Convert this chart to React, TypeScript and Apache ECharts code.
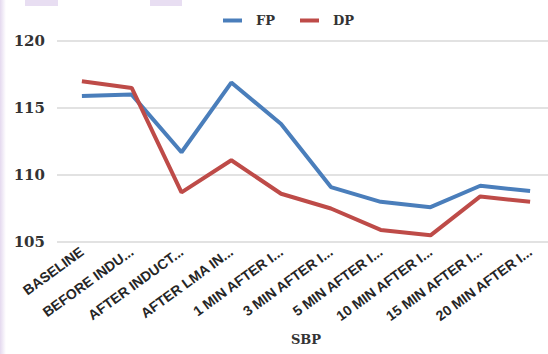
import React, { useEffect, useRef } from "react";
import * as echarts from "echarts";

// Time points of the measurement (as shown on the axis)
const categories: string[] = [
  "BASELINE",
  "BEFORE INDU...",
  "AFTER INDUCT...",
  "AFTER LMA IN...",
  "1 MIN AFTER I...",
  "3 MIN AFTER I...",
  "5 MIN AFTER I...",
  "10 MIN AFTER I...",
  "15 MIN AFTER I...",
  "20 MIN AFTER I...",
];

// Systolic blood pressure, mean values per group
const fpValues: number[] = [115.9, 116.0, 111.7, 116.9, 113.8, 109.1, 108.0, 107.6, 109.2, 108.8];
const dpValues: number[] = [117.0, 116.5, 108.7, 111.1, 108.6, 107.5, 105.9, 105.5, 108.4, 108.0];

const yMin = 105;
const yMax = 120;
const yStep = 5;

const serif = "'DejaVu Serif', 'Liberation Serif', serif";
const sans = "'Liberation Sans', Arial, sans-serif";

export default function App() {
  const ref = useRef<HTMLDivElement>(null);

  useEffect(() => {
    if (!ref.current) return;
    const chart = echarts.init(ref.current, null, { renderer: "svg" });
    chart.setOption({
      animation: false,
      backgroundColor: "#ffffff",
      graphic: [
        {
          type: "rect",
          silent: true,
          shape: { x: 0, y: 0, width: 6, height: 354 },
          style: {
            fill: new echarts.graphic.LinearGradient(0, 0, 1, 0, [
              { offset: 0, color: "#e4d9ef" },
              { offset: 1, color: "#ffffff" },
            ]),
          },
        },
        {
          type: "rect",
          silent: true,
          shape: { x: 25, y: 0, width: 33, height: 6 },
          style: { fill: "#e8def2" },
        },
        {
          type: "rect",
          silent: true,
          shape: { x: 150, y: 0, width: 32, height: 6 },
          style: { fill: "#e8def2" },
        },
      ],
      legend: {
        left: 218,
        top: 9,
        icon: "rect",
        itemWidth: 19,
        itemHeight: 4,
        itemGap: 25,
        textStyle: {
          fontFamily: serif,
          fontWeight: "bold",
          fontSize: 13,
          color: "#333333",
          padding: [0, 0, 0, 9],
        },
        data: ["FP", "DP"],
      },
      grid: {
        left: 57,
        top: 41,
        width: 498,
        height: 201,
        containLabel: false,
        outerBoundsMode: "none",
      },
      xAxis: {
        type: "category",
        data: categories,
        boundaryGap: true,
        name: "SBP",
        nameLocation: "middle",
        nameGap: 91,
        nameTextStyle: {
          fontFamily: serif,
          fontWeight: "bold",
          fontSize: 13,
          color: "#333333",
        },
        axisLine: { show: false },
        axisTick: { show: false },
        axisLabel: {
          interval: 0,
          rotate: 36,
          margin: 8,
          fontFamily: sans,
          fontWeight: "bold",
          fontSize: 14,
          color: "#262626",
        },
      },
      yAxis: {
        type: "value",
        min: yMin,
        max: yMax,
        interval: yStep,
        axisLine: { show: false },
        axisTick: { show: false },
        axisLabel: {
          margin: 12,
          fontFamily: serif,
          fontWeight: "bold",
          fontSize: 15,
          color: "#333333",
        },
        splitLine: { lineStyle: { color: "#d9d9d9", width: 1.5 } },
      },
      series: [
        {
          name: "FP",
          type: "line",
          data: fpValues,
          symbol: "none",
          color: "#4a7ebb",
          lineStyle: { width: 4, color: "#4a7ebb" },
        },
        {
          name: "DP",
          type: "line",
          data: dpValues,
          symbol: "none",
          color: "#be4b48",
          lineStyle: { width: 4, color: "#be4b48" },
        },
      ],
    });
    return () => chart.dispose();
  }, []);

  return (
    <div
      ref={ref}
      style={{ position: "fixed", left: 0, top: 0, width: 548, height: 354 }}
    />
  );
}
